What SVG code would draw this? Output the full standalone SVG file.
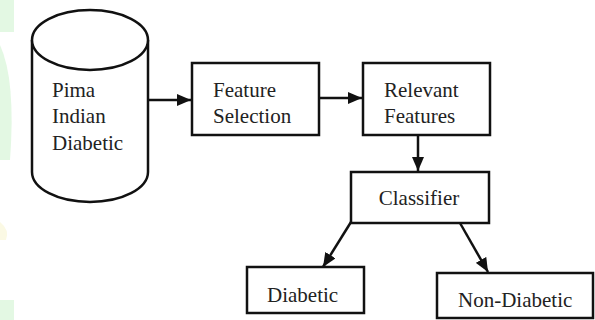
<svg xmlns="http://www.w3.org/2000/svg" width="595" height="320" viewBox="0 0 595 320">
<defs>
<marker id="ah" viewBox="0 0 14 12" refX="14" refY="6" markerWidth="14" markerHeight="12" markerUnits="userSpaceOnUse" orient="auto">
<path d="M0,0 L14,6 L0,12 z" fill="#111"/>
</marker>
<style>
.box{fill:#fff;stroke:#111;stroke-width:2.5}
.t{font-family:"Liberation Serif","Times New Roman",serif;font-size:21px;fill:#222}
.c{stroke:#111;stroke-width:2.5;fill:none}
</style>
</defs>
<rect width="595" height="320" fill="#fff"/>
<g id="watermark" fill="#e3f8e3">
<rect x="0" y="0" width="14" height="32"/>
<path d="M0,45 Q16,80 10,160 L0,160 z"/>
<rect x="0" y="300" width="14" height="20"/>
<path d="M0,222 Q10,230 6,240 L0,240 z" fill="#fbf9e4"/>
</g>
<g id="connectors">
<line class="c" x1="148" y1="100" x2="191" y2="100" marker-end="url(#ah)"/>
<line class="c" x1="319" y1="98" x2="362" y2="98" marker-end="url(#ah)"/>
<line class="c" x1="418" y1="135" x2="418" y2="171" marker-end="url(#ah)"/>
<line class="c" x1="351" y1="222" x2="323" y2="267" marker-end="url(#ah)"/>
<line class="c" x1="460" y1="223" x2="488" y2="272" marker-end="url(#ah)"/>
</g>
<g id="db">
<path class="box" d="M32,40 L32,172 A58,30 0 0 0 148,172 L148,40"/>
<ellipse class="box" cx="90" cy="40" rx="58" ry="30"/>
<text class="t" x="52" y="97">Pima</text>
<text class="t" x="52" y="123">Indian</text>
<text class="t" x="52" y="150">Diabetic</text>
</g>
<g id="featsel">
<rect class="box" x="192" y="63" width="127" height="72"/>
<text class="t" x="213" y="97">Feature</text>
<text class="t" x="213" y="123">Selection</text>
</g>
<g id="relevant">
<rect class="box" x="363" y="63" width="127" height="72"/>
<text class="t" x="384" y="97">Relevant</text>
<text class="t" x="384" y="123">Features</text>
</g>
<g id="classifier">
<rect class="box" x="351" y="172" width="138" height="51"/>
<text class="t" x="419" y="205" text-anchor="middle">Classifier</text>
</g>
<g id="diabetic">
<rect class="box" x="247" y="267" width="117" height="46"/>
<text class="t" x="267" y="302">Diabetic</text>
</g>
<g id="nondiabetic">
<rect class="box" x="437" y="273" width="156" height="45"/>
<text class="t" x="458" y="307">Non-Diabetic</text>
</g>
</svg>
